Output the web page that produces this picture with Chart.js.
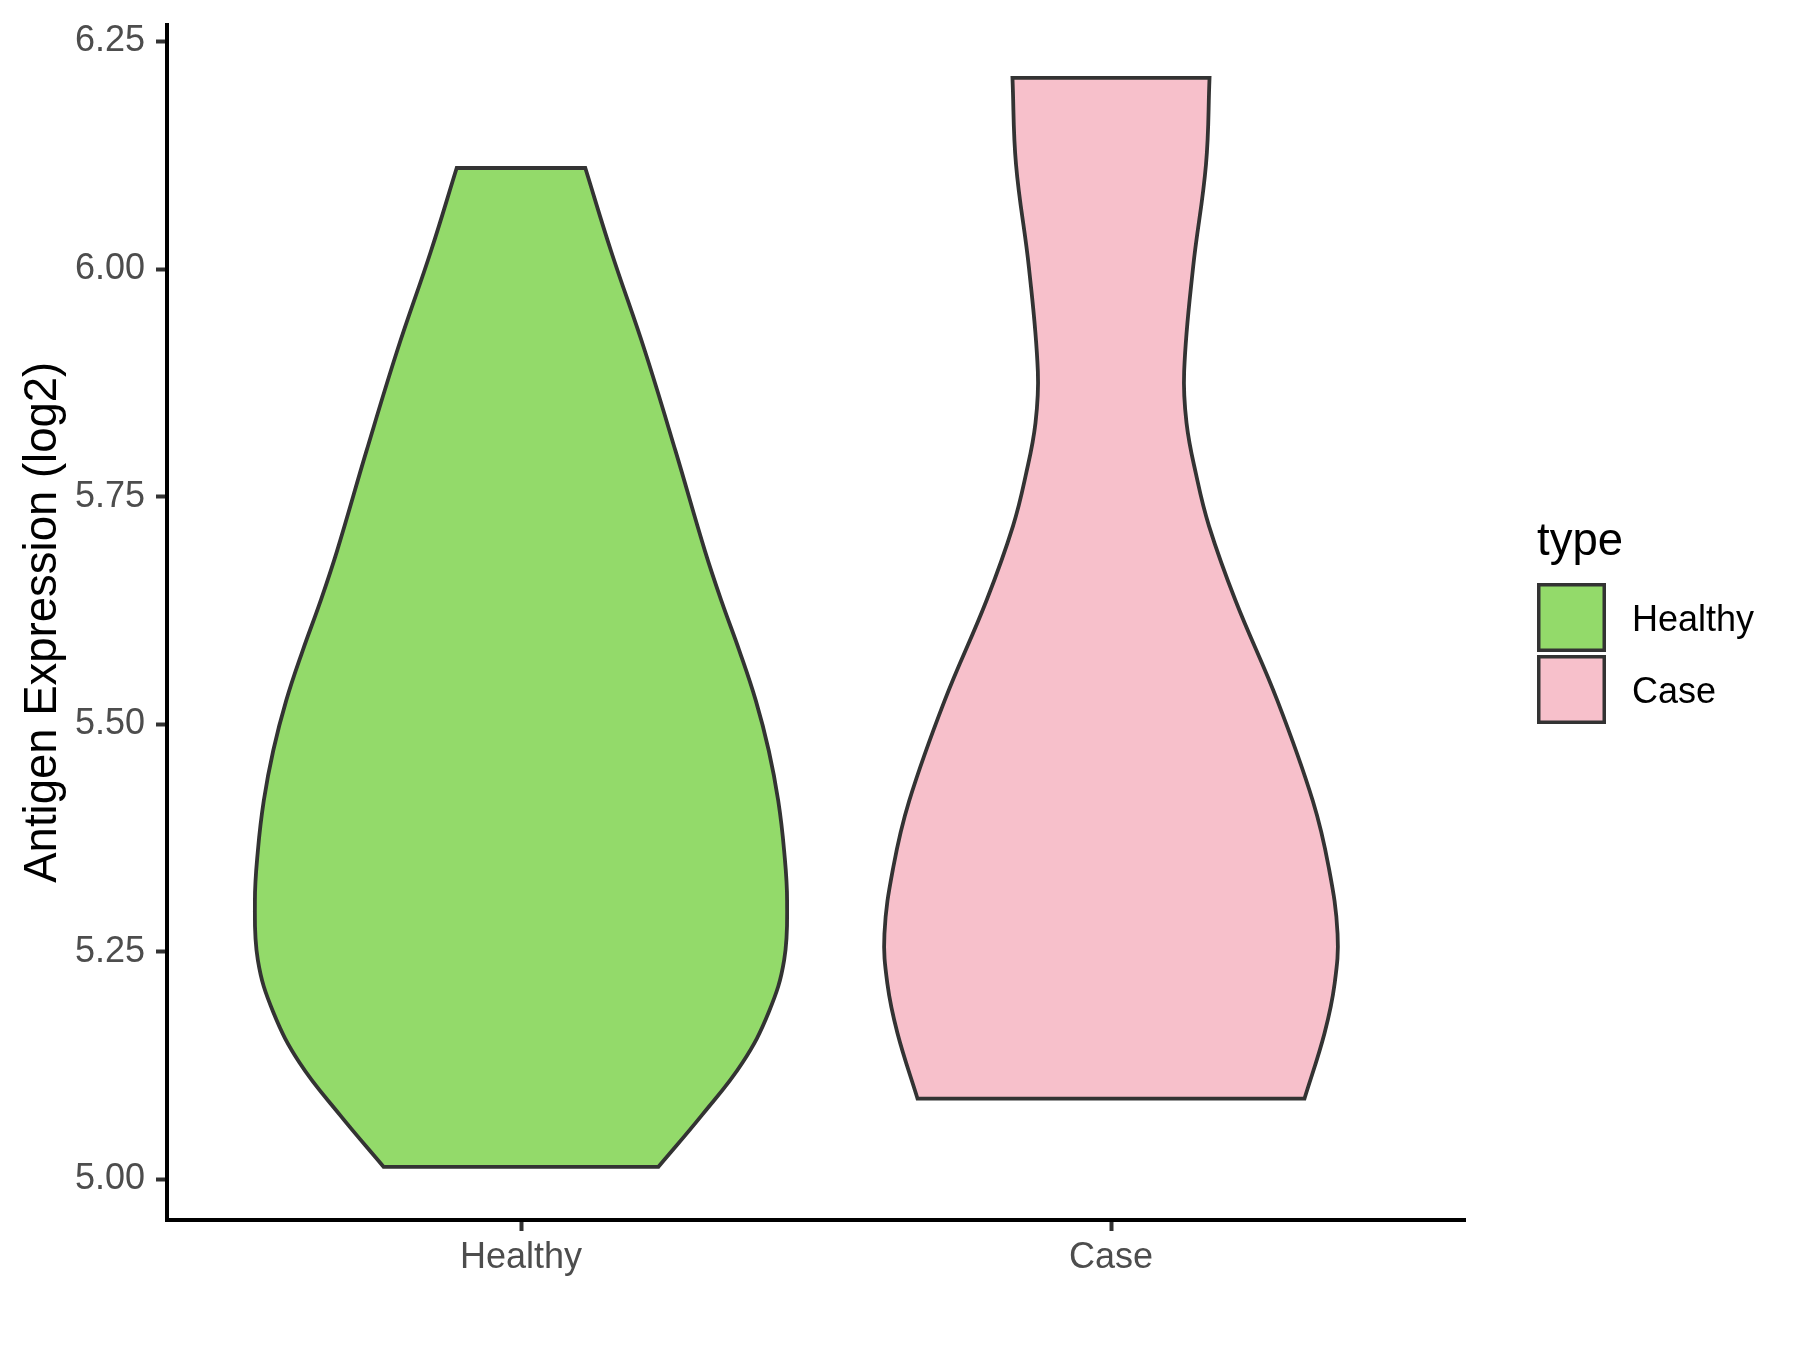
<!DOCTYPE html>
<html>
<head>
<meta charset="utf-8">
<title>Antigen Expression violin</title>
<script src="https://cdn.jsdelivr.net/npm/chart.js@4.4.1/dist/chart.umd.min.js"></script>
<style>
  html, body { margin: 0; padding: 0; background: #ffffff; }
  #wrap { width: 1800px; height: 1350px; position: relative; }
</style>
</head>
<body>
<div id="wrap"><canvas id="canvas"></canvas></div>
<script>
// categories and legend
let categories = ['Healthy', 'Case'];
let legendTitle = 'type';
let yTitle = 'Antigen Expression (log2)';

// y tick labels
let yTicks = [5.00, 5.25, 5.50, 5.75, 6.00, 6.25];

// violin outlines (bottom -> top)
// expression value and half width (in category units)
let healthyY = [5.014, 5.071, 5.128, 5.184, 5.241, 5.306, 5.361, 5.416, 5.471, 5.526, 5.581, 5.635, 5.690, 5.800, 5.910, 6.019, 6.111];
let healthyW = [0.233, 0.307, 0.375, 0.420, 0.446, 0.451, 0.446, 0.436, 0.420, 0.398, 0.370, 0.340, 0.312, 0.262, 0.210, 0.153, 0.109];

let caseY = [5.089, 5.161, 5.215, 5.270, 5.343, 5.416, 5.526, 5.636, 5.718, 5.775, 5.831, 5.888, 6.001, 6.115, 6.210];
let caseW = [0.328, 0.362, 0.379, 0.384, 0.369, 0.342, 0.282, 0.211, 0.166, 0.144, 0.128, 0.124, 0.139, 0.161, 0.167];

let fillColors = ['#93DA6A', '#F7C0CB'];
let fontFamily = "'Liberation Sans', Arial, sans-serif";

Chart.defaults.font.family = fontFamily;

// closed outline of a violin, corners doubled so they stay sharp
function violinOutline(center, ys, ws) {
  let n = ys.length;
  let pts = [];
  pts.push({x: center, y: ys[0]});
  pts.push({x: center + ws[0], y: ys[0]});
  for (let i = 0; i < n; i++) {
    pts.push({x: center + ws[i], y: ys[i]});
  }
  pts.push({x: center + ws[n - 1], y: ys[n - 1]});
  pts.push({x: center - ws[n - 1], y: ys[n - 1]});
  for (let i = n - 1; i >= 0; i--) {
    pts.push({x: center - ws[i], y: ys[i]});
  }
  pts.push({x: center - ws[0], y: ys[0]});
  pts.push({x: center, y: ys[0]});
  return pts;
}

let outlines = [
  violinOutline(1, healthyY, healthyW),
  violinOutline(2, caseY, caseW)
];

let datasets = [];
for (let i = 0; i < categories.length; i++) {
  datasets.push({
    label: categories[i],
    data: outlines[i],
    showLine: true,
    fill: 'shape',
    backgroundColor: fillColors[i],
    borderColor: '#333333',
    borderWidth: 3.8,
    pointRadius: 0,
    pointHoverRadius: 0,
    tension: 0.4
  });
}

// legend drawn at the right, like ggplot
let typeLegend = {
  id: 'typeLegend',
  afterDraw(chart) {
    let ctx = chart.ctx;
    ctx.save();
    ctx.textBaseline = 'alphabetic';
    ctx.textAlign = 'left';
    ctx.fillStyle = '#000000';
    ctx.font = '45.5px ' + fontFamily;
    ctx.fillText(legendTitle, 1537, 555);
    for (let i = 0; i < categories.length; i++) {
      let top = 584.75 + i * 72;
      ctx.fillStyle = fillColors[i];
      ctx.fillRect(1538.75, top, 65.5, 65.5);
      ctx.strokeStyle = '#333333';
      ctx.lineWidth = 3.5;
      ctx.strokeRect(1538.75, top, 65.5, 65.5);
      ctx.fillStyle = '#000000';
      ctx.font = '36px ' + fontFamily;
      ctx.fillText(categories[i], 1632, 631 + i * 72);
    }
    ctx.restore();
  }
};

let configuracao = {
  type: 'scatter',
  data: { datasets: datasets },
  options: {
    responsive: true,
    maintainAspectRatio: false,
    animation: false,
    devicePixelRatio: 1,
    layout: { padding: { top: 24.5, right: 335, left: 0, bottom: 0 } },
    plugins: {
      legend: { display: false },
      tooltip: { enabled: false },
      title: { display: false }
    },
    scales: {
      x: {
        type: 'linear',
        min: 0.4,
        max: 2.6,
        afterBuildTicks: function(scale) {
          scale.ticks = categories.map(function(c, i) { return {value: i + 1}; });
        },
        afterFit: function(scale) {
          scale.height = 130;
          scale.paddingLeft = 0;
          scale.paddingRight = 0;
        },
        ticks: {
          callback: function(v) { return categories[Math.round(v) - 1]; },
          color: '#4D4D4D',
          font: { size: 36, lineHeight: 1.2 },
          padding: 5.5,
          maxRotation: 0,
          autoSkip: false
        },
        grid: {
          display: true,
          drawOnChartArea: false,
          drawTicks: true,
          tickLength: 11,
          tickColor: '#333333',
          tickWidth: 4
        },
        border: { display: true, color: '#000000', width: 4 }
      },
      y: {
        type: 'linear',
        min: 4.9556,
        max: 6.2686,
        afterBuildTicks: function(scale) {
          scale.ticks = yTicks.map(function(v) { return {value: v}; });
        },
        afterFit: function(scale) {
          scale.width = 167;
          scale.paddingTop = 0;
          scale.paddingBottom = 0;
        },
        ticks: {
          callback: function(v) { return v.toFixed(2); },
          color: '#4D4D4D',
          font: { size: 36 },
          padding: 11
        },
        grid: {
          display: true,
          drawOnChartArea: false,
          drawTicks: true,
          tickLength: 11,
          tickColor: '#333333',
          tickWidth: 4
        },
        border: { display: true, color: '#000000', width: 4 },
        title: {
          display: true,
          text: yTitle,
          color: '#000000',
          font: { size: 45.5, lineHeight: 1.2 },
          padding: { top: 16, bottom: 0 }
        }
      }
    }
  },
  plugins: [typeLegend]
};

let chart = new Chart(document.getElementById('canvas'), configuracao);
</script>
</body>
</html>
